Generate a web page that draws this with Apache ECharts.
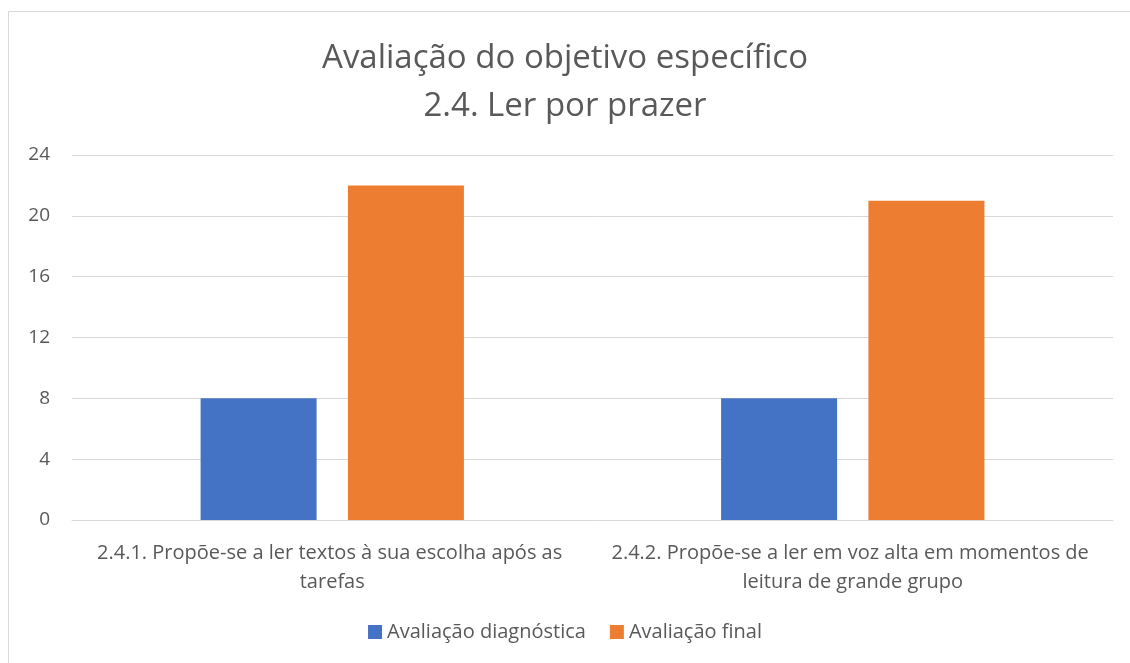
<!DOCTYPE html>
<html>
<head>
<meta charset="utf-8">
<script src="https://cdn.jsdelivr.net/npm/echarts@6/dist/echarts.min.js"></script>
<style>
  html, body { margin: 0; padding: 0; background: #fff; }
  #chart { width: 1130px; height: 663px; }
</style>
</head>
<body>
<div id="chart"></div>
<script>
// dados do gráfico
const categorias = [
  '2.4.1. Propõe-se a ler textos à sua escolha após as tarefas',
  '2.4.2. Propõe-se a ler em voz alta em momentos de leitura de grande grupo'
];
const diagnostica = [8, 8];
const final = [22, 21];
const nomesSeries = ['Avaliação diagnóstica', 'Avaliação final'];

const fonte = '"Open Sans", sans-serif';
const cinza = '#595959';

const chart = echarts.init(document.getElementById('chart'));
chart.setOption({
  animation: false,
  textStyle: { fontFamily: fonte },
  title: {
    text: 'Avaliação do objetivo específico\n2.4. Ler por prazer',
    left: 'center',
    top: 30,
    textStyle: { fontFamily: fonte, fontSize: 33, fontWeight: 'normal', color: cinza, lineHeight: 48 }
  },
  graphic: [{
    type: 'rect',
    shape: { x: 8.5, y: 11.5, width: 1200, height: 800 },
    style: { fill: 'none', stroke: '#d9d9d9', lineWidth: 1 },
    silent: true
  }],
  legend: {
    bottom: 16,
    left: 'center',
    itemWidth: 14,
    itemHeight: 14,
    itemGap: 24,
    icon: 'rect',
    textStyle: { fontFamily: fonte, fontSize: 20, color: cinza },
    data: nomesSeries
  },
  grid: { left: 72, right: 17, top: 155, bottom: 143 },
  xAxis: {
    type: 'category',
    data: categorias,
    axisLine: { lineStyle: { color: '#d9d9d9', width: 1 } },
    axisTick: { show: false },
    axisLabel: {
      width: 508,
      overflow: 'break',
      interval: 0,
      margin: 19,
      lineHeight: 29,
      fontFamily: fonte,
      fontSize: 20,
      color: cinza
    }
  },
  yAxis: {
    type: 'value',
    min: 0,
    max: 24,
    interval: 4,
    axisLine: { show: false },
    axisTick: { show: false },
    splitLine: { lineStyle: { color: '#d9d9d9', width: 1 } },
    axisLabel: { fontFamily: fonte, fontSize: 19, color: cinza, margin: 22 }
  },
  series: [
    {
      name: nomesSeries[0],
      type: 'bar',
      data: diagnostica,
      barWidth: 116,
      barGap: '27%',
      itemStyle: { color: '#4472c4' }
    },
    {
      name: nomesSeries[1],
      type: 'bar',
      data: final,
      barWidth: 116,
      itemStyle: { color: '#ed7d31' }
    }
  ]
});
</script>
</body>
</html>
